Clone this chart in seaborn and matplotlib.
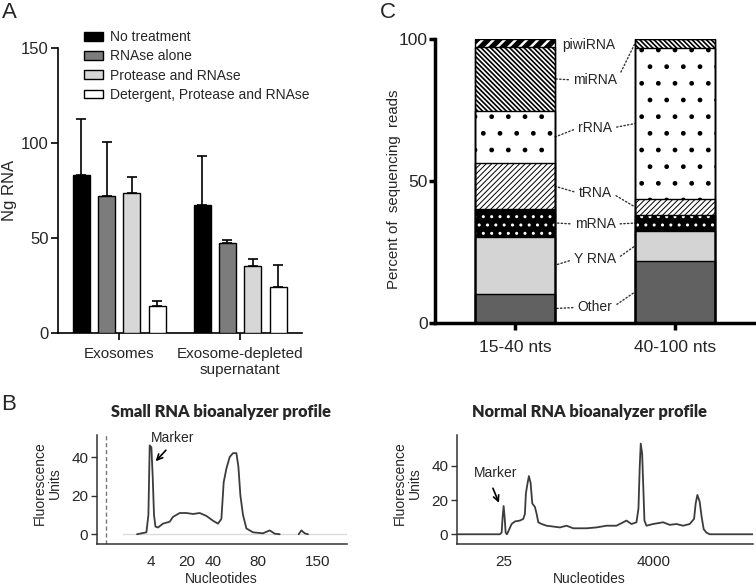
import numpy as np
import pandas as pd
import matplotlib
matplotlib.use("Agg")
import matplotlib.pyplot as plt
import matplotlib.patches as mpatches
from matplotlib.patches import Rectangle
import seaborn as sns

# ---------------- Panel A data ----------------
groups = ["Exosomes", "Exosome-depleted\nsupernatant"]
treatments = ["No treatment", "RNAse alone", "Protease and RNAse",
              "Detergent, Protease and RNAse"]
mean_exosomes = [83.0, 72.0, 73.5, 14.0]
sd_exosomes = [30.0, 28.5, 8.5, 3.0]
mean_supernatant = [67.5, 47.5, 35.5, 24.0]
sd_supernatant = [25.5, 1.5, 3.5, 12.0]
treatment_colors = ["#000000", "#7c7c7c", "#d7d7d7", "#ffffff"]

# ---------------- Panel C data ----------------
size_classes = ["15-40 nts", "40-100 nts"]
rna_types = ["Other", "Y RNA", "mRNA", "tRNA", "rRNA", "miRNA", "piwiRNA"]
pct_15_40 = [10.4, 20.1, 9.6, 16.2, 18.5, 22.3, 2.9]
pct_40_100 = [22.0, 10.4, 5.7, 5.7, 52.9, 3.3, 0.0]
label_y = [5.6, 22.5, 34.9, 45.8, 68.7, 85.6, 97.9]
type_face = ["#616161", "#d4d4d4", "#000000", "#ffffff", "#ffffff", "#ffffff", "#000000"]
type_hatch = [None, None, "..", "//////", ".", "\\\\\\\\\\\\\\", "///"]
type_hatch_color = ["#616161", "#d4d4d4", "#ffffff", "#000000", "#000000", "#000000", "#ffffff"]
type_hatch_lw = [1.0, 1.0, 1.0, 0.7, 1.0, 1.2, 1.8]

# ---------------- Panel B data (small RNA) ----------------
small_t = [40.3, 49.7, 51.7, 53.0, 54.7, 56.0, 57.3, 58.7, 61.3, 66.3,
           73.0, 76.3, 83.0, 89.7, 96.3, 103.0, 109.7, 116.3, 121.3, 124.7,
           127.0, 129.7, 133.0, 136.3, 139.7, 141.7, 143.7, 146.3, 149.7, 156.3,
           166.3, 173.0, 178.0, 183.0, 202.0, 204.7, 208.0, 211.3]
small_fu = [0, 1, 10, 46, 45, 30, 10, 4, 3.5, 5.5,
            6.5, 9, 11, 11, 10.5, 11, 9.5, 7, 5.5, 8,
            27, 34, 40, 42, 42, 35, 20, 10, 3, 1,
            0.5, 2, 0.3, 0, 0, 2, 0.5, 0]
small_seg = [0] * 34 + [1] * 4
small_tick_pos = [54.0, 89.7, 116.3, 160.7, 221.3]
small_tick_lab = ["4", "20", "40", "80", "150"]

# ---------------- Panel B data (normal RNA) ----------------
normal_t = [1, 43.3, 45, 46, 47, 48, 49, 50.3, 52.7, 55,
            58.3, 63.3, 66.7, 68.3, 69.3, 71, 72.3, 74, 75.7, 78.3,
            80, 81.7, 85, 90, 96.7, 103.3, 110, 116.7, 130, 140,
            150, 160, 166.7, 170, 175, 180, 182, 183.3, 184.3, 185.7,
            186.7, 188, 190, 196.7, 206.7, 213.3, 220, 226.7, 233.3, 237.7,
            239.3, 241, 243.3, 245.3, 247.3, 250, 253.3, 296.7]
normal_fu = [0, 0, 1, 10, 16.5, 10, 1, 0, 3, 6,
             7.5, 8, 9, 12, 24, 30, 34, 30, 18, 16,
             12, 7, 6, 5, 4.5, 4, 5, 3.5, 3.5, 4,
             5, 5, 7, 8, 6, 7, 15, 40, 53, 47,
             30, 8, 5, 6, 7, 5.5, 6, 5, 6, 9,
             18, 23, 19, 10, 3, 1, 0, 0]
normal_tick_pos = [46.7, 197.3]
normal_tick_lab = ["25", "4000"]

# ---------------- style ----------------
sns.set_theme(style="ticks")
plt.rcParams["font.family"] = ["Liberation Sans", "DejaVu Sans"]
plt.rcParams["hatch.linewidth"] = 1.0

W, H = 756, 585
fig = plt.figure(figsize=(W / 100, H / 100), dpi=100)


def box(l, t, r, b):
    return [l / W, 1 - b / H, (r - l) / W, (b - t) / H]


# ================= Panel A =================
ax_a = fig.add_axes(box(58.3, 48.3, 302, 333))
df_a = pd.DataFrame({
    "group": [groups[0]] * 4 + [groups[1]] * 4,
    "treatment": treatments * 2,
    "mean": mean_exosomes + mean_supernatant,
    "sd": sd_exosomes + sd_supernatant,
})
sns.barplot(data=df_a, x="group", y="mean", hue="treatment", order=groups,
            hue_order=treatments, palette=treatment_colors, width=0.84, gap=0.33,
            saturation=1, errorbar=None, edgecolor="black", linewidth=1.0,
            legend=False, ax=ax_a, zorder=3)
xs, ys, es = [], [], []
for i, cont in enumerate(list(ax_a.containers)):
    for bar in cont:
        xc = bar.get_x() + bar.get_width() / 2
        g = int(round(xc))
        row = df_a[(df_a["group"] == groups[g]) & (df_a["treatment"] == treatments[i])].iloc[0]
        xs.append(xc)
        ys.append(bar.get_height())
        es.append(row["sd"])
ax_a.errorbar(xs, ys, yerr=[np.zeros(len(es)), es], fmt="none", ecolor="black",
              elinewidth=1.2, capsize=3.6, capthick=1.2, zorder=2)
ax_a.set_ylim(0, 150)
ax_a.set_yticks([0, 50, 100, 150])
ax_a.set_xlim(-0.504, 1.512)
ax_a.set_xlabel("")
ax_a.set_ylabel("Ng RNA", fontsize=12)
ax_a.yaxis.set_label_coords(-0.17, 0.5)
sns.despine(ax=ax_a)
for s in ["left", "bottom"]:
    ax_a.spines[s].set_linewidth(1.2)
    ax_a.spines[s].set_color("black")
ax_a.tick_params(axis="y", labelsize=12, length=5, width=1.2, color="black", pad=2)
ax_a.tick_params(axis="x", labelsize=11, length=5, width=1.2, color="black", pad=5)
handles = [mpatches.Patch(facecolor=c, edgecolor="black", linewidth=1.0) for c in treatment_colors]
ax_a.legend(handles, treatments, loc="upper left", bbox_to_anchor=(84 / W, 1 - 30 / H),
            bbox_transform=fig.transFigure, frameon=False, fontsize=10,
            handlelength=1.35, handleheight=0.6, handletextpad=0.5,
            labelspacing=0.38, borderpad=0, borderaxespad=0)

# ================= Panel C =================
ax_c = fig.add_axes(box(435, 39, 756, 323.3))
cum_l = np.cumsum(pct_15_40)
cum_r = np.cumsum(pct_40_100)
for j in range(len(rna_types) - 1, -1, -1):
    with plt.rc_context({"hatch.linewidth": type_hatch_lw[j]}):
        sns.barplot(x=size_classes, y=[cum_l[j], cum_r[j]], color=type_face[j],
                    saturation=1, width=0.5, edgecolor=type_hatch_color[j],
                    linewidth=0, hatch=type_hatch[j], errorbar=None, ax=ax_c)
        for p in ax_c.containers[-1]:
            try:
                p.set_hatch_linewidth(type_hatch_lw[j])
            except AttributeError:
                pass
for p in list(ax_c.patches):
    ax_c.add_patch(Rectangle((p.get_x(), p.get_y()), p.get_width(), p.get_height(),
                             fill=False, edgecolor="black", linewidth=1.0, zorder=4))
half = ax_c.patches[0].get_width() / 2
mid_l = cum_l - np.array(pct_15_40) / 2
mid_r = cum_r - np.array(pct_40_100) / 2
conn = dict(arrowstyle="-", linestyle=":", color="#333333", lw=1.0, shrinkA=1, shrinkB=0)
for j, name in enumerate(rna_types):
    if name == "piwiRNA":
        ax_c.text(0.46, label_y[j], name, ha="center", va="center", fontsize=10)
        continue
    ax_c.annotate(name, xy=(half, mid_l[j]), xytext=(0.5, label_y[j]), ha="center",
                  va="center", fontsize=10, arrowprops=dict(conn, relpos=(0, 0.5)))
    ax_c.annotate(name, xy=(1 - half, mid_r[j]), xytext=(0.5, label_y[j]), ha="center",
                  va="center", fontsize=10, color="none",
                  arrowprops=dict(conn, relpos=(1, 0.5)))
ax_c.set_ylim(0, 100)
ax_c.set_yticks([0, 50, 100])
ax_c.set_xlim(-0.504, 1.51)
ax_c.set_ylabel("Percent of  sequencing  reads", fontsize=10.8)
ax_c.yaxis.set_label_coords(-0.106, 0.47)
sns.despine(ax=ax_c)
for s in ["left", "bottom"]:
    ax_c.spines[s].set_linewidth(2.5)
    ax_c.spines[s].set_color("black")
ax_c.tick_params(axis="y", labelsize=12.5, length=4, width=2.5, color="black", pad=1)
ax_c.tick_params(axis="x", labelsize=12.5, length=5, width=2.5, color="black", pad=7)

# ================= Panel B (small RNA) =================
trace_color = "#3c3c3c"
ax_bl = fig.add_axes(box(96.7, 435, 346.7, 544.3))
df_s = pd.DataFrame({"t": small_t, "fu": small_fu, "seg": small_seg})
ax_bl.axhline(0, xmin=26.3 / 250, xmax=1, color="#dcdcdc", lw=1.0, zorder=0)
ax_bl.axvline(9, color="#777777", lw=1.0, ls=(0, (3, 2)))
sns.lineplot(data=df_s, x="t", y="fu", units="seg", estimator=None, color=trace_color,
             lw=1.3, ax=ax_bl)
ax_bl.set_xlim(0, 250)
ax_bl.set_ylim(-5.2, 51.4)
ax_bl.set_xticks(small_tick_pos)
ax_bl.set_xticklabels(small_tick_lab)
ax_bl.set_yticks([0, 20, 40])
ax_bl.annotate("Marker", xy=(59, 37.8), xytext=(76.3, 49.9), ha="center", va="center",
               fontsize=10, arrowprops=dict(arrowstyle="->", color="black", lw=1.2,
                                            shrinkA=2, shrinkB=0, relpos=(0.45, 0)))
ax_bl.text(0.496, 1.21, "Small RNA bioanalyzer profile", transform=ax_bl.transAxes,
           ha="center", va="center", fontsize=11.8, fontweight="heavy",
           family=["Lato", "DejaVu Sans"])

# ================= Panel B (normal RNA) =================
ax_br = fig.add_axes(box(456.7, 435, 753, 544.3))
df_n = pd.DataFrame({"t": normal_t, "fu": normal_fu})
sns.lineplot(data=df_n, x="t", y="fu", estimator=None, color=trace_color, lw=1.3, ax=ax_br)
ax_br.set_xlim(0, 296.7)
ax_br.set_ylim(-5.86, 58.0)
ax_br.set_xticks(normal_tick_pos)
ax_br.set_xticklabels(normal_tick_lab)
ax_br.set_yticks([0, 20, 40])
ax_br.annotate("Marker", xy=(42.3, 18.4), xytext=(39.3, 35.9), ha="center", va="center",
               fontsize=10, arrowprops=dict(arrowstyle="->", color="black", lw=1.2,
                                            shrinkA=4, shrinkB=0, relpos=(0.35, 0)))
ax_br.text(0.449, 1.21, "Normal RNA bioanalyzer profile", transform=ax_br.transAxes,
           ha="center", va="center", fontsize=11.8, fontweight="heavy",
           family=["Lato", "DejaVu Sans"])

for ax, lx, xx in [(ax_bl, -0.14, 0.5), (ax_br, -0.118, 0.449)]:
    sns.despine(ax=ax)
    for s in ["left", "bottom"]:
        ax.spines[s].set_linewidth(1.1)
        ax.spines[s].set_color("#333333")
    ax.tick_params(axis="y", labelsize=11, length=4, width=1.0, color="#333333", pad=2)
    ax.tick_params(axis="x", labelsize=11, length=0, pad=8)
    ax.set_ylabel("Fluorescence\nUnits", fontsize=10, linespacing=1.1)
    ax.yaxis.set_label_coords(lx, 0.56)
    ax.set_xlabel("Nucleotides", fontsize=10)
    ax.xaxis.set_label_coords(xx, -0.25)

# panel letters
fig.text(2 / W, 1 - 13 / H, "A", fontsize=16, va="center", ha="left")
fig.text(380 / W, 1 - 12 / H, "C", fontsize=16, va="center", ha="left")
fig.text(1 / W, 1 - 405 / H, "B", fontsize=16, va="center", ha="left")

fig.savefig("out.png", dpi=100)
